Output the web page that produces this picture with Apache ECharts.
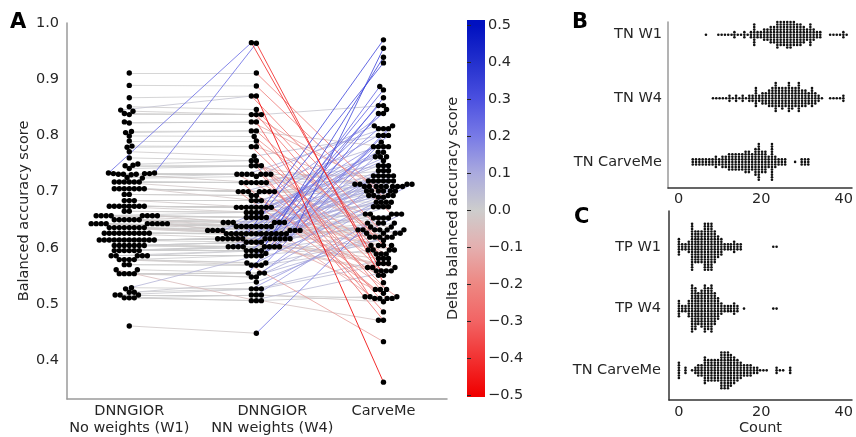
<!DOCTYPE html>
<html><head><meta charset="utf-8">
<script src="https://cdn.jsdelivr.net/npm/echarts@6/dist/echarts.min.js"></script>
<style>html,body{margin:0;padding:0;background:#fff;}#c{width:856px;height:437px;}</style>
</head><body><div id="c"></div>
<script>
// ---------------- data ----------------
const groups = ['DNNGIOR\nNo weights (W1)', 'DNNGIOR\nNN weights (W4)', 'CarveMe'];
const accTicks = [0.4, 0.5, 0.6, 0.7, 0.8, 0.9, 1.0];
const deltaTicks = [-0.5, -0.4, -0.3, -0.2, -0.1, 0.0, 0.1, 0.2, 0.3, 0.4, 0.5];
const countTicks = [0, 20, 40];
const rowsB = ['TN W1', 'TN W4', 'TN CarveMe'];
const rowsC = ['TP W1', 'TP W4', 'TN CarveMe'];

// balanced accuracy per genome (same order in all three arrays)
const w1 = [0.911,0.889,0.867,0.851,0.845,0.843,0.839,0.837,0.824,0.822,0.807,0.805,0.799,0.790,0.781,0.779,0.771,0.760,0.749,0.747,0.746,0.741,
0.733,0.733,0.732,0.732,0.732,0.731,0.731,0.731,0.730,
0.725,0.724,
0.717,0.717,0.717,0.717,0.717,0.717,
0.705,0.705,0.705,0.705,0.705,0.705,0.705,
0.695,0.695,
0.684,0.684,0.684,
0.674,0.674,0.674,0.674,0.674,0.674,0.674,0.674,
0.665,0.665,
0.657,0.657,0.657,0.657,0.657,0.657,0.657,0.657,
0.650,0.650,0.650,0.650,0.650,0.650,
0.643,0.643,0.643,0.643,0.643,0.643,0.643,0.643,0.643,
0.636,0.636,0.636,0.636,0.636,0.636,0.636,0.636,
0.626,0.626,0.626,0.626,0.626,0.626,0.626,0.626,0.626,0.626,
0.614,0.614,0.614,0.614,0.614,0.614,0.614,0.614,0.614,0.614,0.614,0.614,
0.604,0.604,0.604,0.604,0.604,0.604,0.604,
0.595,0.595,0.595,0.595,0.595,0.595,
0.586,0.586,0.586,0.586,0.586,
0.579,0.579,0.579,0.579,
0.570,0.570,
0.561,0.561,
0.554,0.554,0.554,0.554,
0.527,0.529,
0.521,0.521,
0.516,0.516,0.516,
0.511,0.511,0.511,
0.461];

const w4 = [0.911,0.888,0.870,0.846,0.870,0.837,0.837,0.837,0.824,0.824,0.808,0.808,0.798,0.790,0.780,0.780,0.763,0.755,0.755,0.746,0.746,0.746,
0.965,0.964,0.731,0.731,0.731,0.731,0.731,0.731,0.716,
0.731,0.727,
0.716,0.716,0.716,0.716,0.716,0.700,
0.700,0.700,0.700,0.700,0.700,0.700,0.684,
0.693,0.693,
0.684,0.684,0.672,
0.672,0.672,0.672,0.672,0.672,0.672,0.672,0.663,
0.663,0.663,
0.654,0.654,0.654,0.654,0.654,0.645,0.645,0.663,
0.645,0.645,0.645,0.645,0.638,0.638,
0.638,0.638,0.638,0.638,0.638,0.638,0.631,0.631,0.631,
0.631,0.631,0.631,0.631,0.625,0.625,0.625,0.625,
0.625,0.625,0.625,0.625,0.625,0.625,0.625,0.625,0.625,0.616,
0.616,0.616,0.616,0.616,0.616,0.616,0.616,0.616,0.616,0.616,0.616,0.610,
0.610,0.610,0.610,0.602,0.602,0.602,0.602,
0.602,0.602,0.602,0.602,0.595,0.595,
0.595,0.595,0.586,0.586,0.586,
0.586,0.573,0.573,0.569,
0.569,0.569,
0.555,0.506,
0.555,0.555,0.548,0.548,
0.590,0.527,
0.527,0.539,
0.516,0.516,0.527,
0.506,0.506,0.516,
0.448];

const carveme = [0.690,0.660,0.361,0.604,0.626,0.581,0.701,0.853,0.513,0.709,0.596,0.780,0.619,0.526,0.693,0.559,0.800,0.510,0.644,0.471,0.713,0.589,
0.551,0.538,0.728,0.486,0.812,0.632,0.709,0.526,0.737,
0.589,0.817,
0.719,0.572,0.746,0.780,0.510,0.693,
0.709,0.565,0.762,0.701,0.526,0.839,0.681,
0.596,0.728,
0.719,0.551,0.673,
0.800,0.619,0.709,0.746,0.637,0.513,0.719,0.770,
0.604,0.701,
0.970,0.626,0.559,0.780,0.690,0.713,0.762,0.653,
0.887,0.619,0.728,0.660,0.604,0.737,
0.846,0.709,0.632,0.519,0.673,0.719,0.755,0.626,0.681,
0.955,0.701,0.644,0.565,0.812,0.728,0.653,0.572,
0.881,0.709,0.596,0.660,0.632,0.780,0.510,0.681,0.746,0.693,
0.929,0.701,0.719,0.637,0.770,0.673,0.559,0.762,0.632,0.709,0.581,0.853,
0.737,0.644,0.565,0.939,0.728,0.660,0.713,
0.817,0.681,0.589,0.709,0.632,0.800,
0.613,0.693,0.867,0.604,0.719,
0.653,0.433,0.788,0.619,
0.713,0.596,
0.673,0.513,
0.839,0.632,0.701,0.626,
0.812,0.581,
0.660,0.619,
0.644,0.510,0.572,
0.559,0.471,0.504,
0.653];

// panel B / C : count value and number of genomes at that value
const tnW1Val  = [6.6,9.6,10.4,11.2,12.0,12.8,13.5,14.3,15.1,15.9,16.7,17.5,18.3,19.1,19.9,20.7,21.5,22.3,23.1,23.9,24.7,25.5,26.3,27.1,27.9,28.7,29.5,30.3,31.1,31.9,32.7,33.5,34.3,36.7,37.5,38.3,39.1,39.9,40.7];
const tnW1Freq = [1,1,1,1,1,1,3,1,1,3,1,3,9,3,3,5,5,7,7,12,10,10,12,12,10,9,9,7,5,9,5,3,3,1,1,1,1,3,1];
const tnW4Val  = [8.3,9.1,9.9,10.7,11.5,12.3,13.1,13.9,14.7,15.5,16.3,17.1,17.9,18.7,19.5,20.3,21.1,21.9,22.7,23.5,24.3,25.1,25.9,26.7,27.5,28.3,29.1,29.9,30.7,31.5,32.3,33.1,33.9,34.7,36.7,37.5,38.3,39.1,39.9];
const tnW4Freq = [1,1,1,1,1,3,1,3,1,3,1,3,3,8,3,5,5,7,8,12,8,9,8,12,9,8,12,7,7,5,8,5,3,1,1,1,1,1,3];
const tnCmVal  = [3.4,4.2,5.0,5.8,6.6,7.4,8.2,9.0,9.8,10.6,11.4,12.2,13.0,13.8,14.6,15.4,16.2,17.0,17.8,18.6,19.4,20.2,21.0,21.8,22.6,23.4,24.2,25.0,25.8,28.2,29.8,30.6,31.4];
const tnCmFreq = [3,3,3,3,3,3,3,5,3,5,5,7,7,7,7,7,9,9,7,11,15,9,9,5,15,5,3,3,3,1,3,3,3];
const tpW1Val  = [0,0.8,1.6,2.4,3.2,4.0,4.7,5.5,6.3,7.1,7.9,8.7,9.5,10.3,11.1,11.9,12.6,13.4,14.2,15.0,22.9,23.7];
const tpW1Freq = [7,3,3,5,19,13,13,13,19,19,19,13,9,7,3,3,3,5,3,3,1,1];
const tpW4Val  = [0,0.8,1.6,2.4,3.2,4.0,4.7,5.5,6.3,7.1,7.9,8.7,9.5,10.3,11.1,11.9,12.6,13.4,14.2,15.8,22.9,23.7];
const tpW4Freq = [7,3,3,7,19,17,13,15,19,17,19,13,9,5,3,3,3,5,3,1,1,1];
const tnCm2Val  = [0,1.6,3.2,4.0,4.7,5.5,6.3,7.1,7.9,8.7,9.5,10.3,11.1,11.9,12.6,13.4,14.2,15.0,15.8,16.6,17.4,18.2,19.0,19.7,20.5,21.3,23.7,24.5,25.3,27.0];
const tnCm2Freq = [7,3,1,3,5,5,11,9,9,9,9,15,15,15,13,11,9,7,5,5,5,3,3,1,1,1,3,1,1,3];

// ---------------- style ----------------
const FONT = 'DejaVu Sans';
const TXT = '#262626';
const FS = 14.5;
const cmapStops = [[-0.5,[240,0,0]],[-0.4,[242,50,50]],[-0.3,[242,100,100]],[-0.2,[238,135,130]],[-0.1,[228,175,175]],[0,[205,205,205]],[0.1,[170,170,222]],[0.2,[120,122,230]],[0.3,[75,80,224]],[0.4,[35,48,205]],[0.5,[0,16,192]]];
function cmap(v){
  v = Math.max(-0.5, Math.min(0.5, v));
  for (let k = 0; k < cmapStops.length - 1; k++) {
    const a = cmapStops[k], b = cmapStops[k+1];
    if (v <= b[0]) {
      const t = (v - a[0]) / (b[0] - a[0]);
      const c = a[1].map((x, j) => Math.round(x + (b[1][j] - x) * t));
      return 'rgb(' + c.join(',') + ')';
    }
  }
  return 'rgb(' + cmapStops[cmapStops.length-1][1].join(',') + ')';
}
const CB = {left: 467, top: 20, width: 18, height: 377, min: -0.505, max: 0.5135};
const fmtSigned = v => (v < -1e-9 ? '\u2212' : '') + Math.abs(v).toFixed(1);
// x position of each column's tick label (the W4 label sits slightly right of its column)
const groupLabelPos = [0, 1.126, 2];

const chart = echarts.init(document.getElementById('c'), null, {renderer: 'canvas'});
const lbl = (extra) => Object.assign({fontFamily: FONT, fontSize: FS, color: TXT}, extra || {});

const base = {
  animation: false,
  backgroundColor: '#fff',
  title: [
    {text: 'A', left: 10, top: 12, padding: 0, textStyle: {fontFamily: FONT, fontSize: 21, fontWeight: 'bold', color: '#000'}},
    {text: 'B', left: 572, top: 12, padding: 0, textStyle: {fontFamily: FONT, fontSize: 21, fontWeight: 'bold', color: '#000'}},
    {text: 'C', left: 574, top: 207, padding: 0, textStyle: {fontFamily: FONT, fontSize: 21, fontWeight: 'bold', color: '#000'}}
  ],
  grid: [
    {left: 67, top: 23, width: 380, height: 378},
    {left: CB.left, top: CB.top, width: CB.width, height: CB.height},
    {left: 668, top: 22, width: 188, height: 166},
    {left: 669, top: 211, width: 187, height: 189}
  ],
  xAxis: [
    {gridIndex: 0, type: 'value', min: -0.49, max: 2.5,
     axisLine: {show: true, onZero: false, lineStyle: {color: '#9a9a9a', width: 1.5}},
     axisTick: {show: false}, splitLine: {show: false},
     axisLabel: lbl({customValues: groupLabelPos, margin: 4, lineHeight: 17, showMinLabel: true, showMaxLabel: true, hideOverlap: false,
       formatter: v => groups[Math.round(v)]})},
    {gridIndex: 1, type: 'value', show: false, min: 0, max: 1},
    {gridIndex: 2, type: 'value', min: -2.6, max: 42,
     axisLine: {show: true, onZero: false, lineStyle: {color: '#333', width: 1.5}},
     axisTick: {show: false}, splitLine: {show: false},
     axisLabel: lbl({customValues: countTicks, margin: 4, showMinLabel: true, showMaxLabel: true})},
    {gridIndex: 3, type: 'value', min: -2.4, max: 42,
     axisLine: {show: true, onZero: false, lineStyle: {color: '#333', width: 1.5}},
     axisTick: {show: false}, splitLine: {show: false},
     axisLabel: lbl({customValues: countTicks, margin: 5, showMinLabel: true, showMaxLabel: true}),
     name: 'Count', nameLocation: 'middle', nameGap: 20, nameTextStyle: lbl()}
  ],
  yAxis: [
    {gridIndex: 0, type: 'value', min: 0.331, max: 1.0,
     axisLine: {show: true, onZero: false, lineStyle: {color: '#9a9a9a', width: 1.5}},
     axisTick: {show: false}, splitLine: {show: false},
     axisLabel: lbl({customValues: accTicks, margin: 8, showMinLabel: true, showMaxLabel: true, formatter: v => v.toFixed(1)}),
     name: 'Balanced accuracy score', nameLocation: 'middle', nameGap: 27, nameTextStyle: lbl()},
    {gridIndex: 1, type: 'value', position: 'right', min: CB.min, max: CB.max,
     axisLine: {show: false}, splitLine: {show: false},
     axisTick: {show: true, length: 4, customValues: deltaTicks, lineStyle: {color: TXT, width: 1}},
     axisLabel: lbl({customValues: deltaTicks, margin: 3, showMinLabel: true, showMaxLabel: true, formatter: fmtSigned})},
    {gridIndex: 1, type: 'value', position: 'left', min: CB.min, max: CB.max,
     axisLine: {show: false}, splitLine: {show: false}, axisTick: {show: false}, axisLabel: {show: false},
     name: 'Delta balanced accuracy score', nameLocation: 'middle', nameGap: 6, nameTextStyle: lbl()},
    {gridIndex: 2, type: 'value', inverse: true, min: -0.2, max: 2.41,
     axisLine: {show: true, onZero: false, lineStyle: {color: '#9a9a9a', width: 1.5}},
     axisTick: {show: false}, splitLine: {show: false},
     axisLabel: lbl({customValues: [0, 1, 2], margin: 6, showMinLabel: true, showMaxLabel: true, formatter: v => rowsB[Math.round(v)]})},
    {gridIndex: 3, type: 'value', inverse: true, min: -0.58, max: 2.48,
     axisLine: {show: true, onZero: false, lineStyle: {color: '#333', width: 1.5}},
     axisTick: {show: false}, splitLine: {show: false},
     axisLabel: lbl({customValues: [0, 1, 2], margin: 8, showMinLabel: true, showMaxLabel: true, formatter: v => rowsC[Math.round(v)]})}
  ],
  series: []
};
chart.setOption(base);

// ---------------- swarm layout (seaborn-like) ----------------
function swarmOffsets(vals, pxPerVal, d) {
  const n = vals.length;
  const order = vals.map((v, i) => i).sort((a, b) => (vals[a] - vals[b]) || (a - b));
  const placed = [];
  const off = new Array(n);
  for (const i of order) {
    const p = vals[i] * pxPerVal;
    const nb = [];
    for (const q of placed) { const dy = p - q.p; if (Math.abs(dy) < d) nb.push({o: q.o, dy}); }
    const lefts = [], rights = [];
    for (const q of nb) { const dx = Math.sqrt(d * d - q.dy * q.dy); lefts.push(q.o - dx); rights.push(q.o + dx); }
    const cands = [0].concat(lefts, rights).map((c, k) => [c, k]);
    cands.sort((a, b) => (Math.abs(a[0]) - Math.abs(b[0])) || (a[1] - b[1]));
    let chosen = 0;
    for (const [c] of cands) {
      let ok = true;
      for (const q of nb) { const dx = c - q.o; if (dx * dx + q.dy * q.dy < d * d - 1e-6) { ok = false; break; } }
      if (ok) { chosen = c; break; }
    }
    placed.push({p, o: chosen});
    off[i] = chosen;
  }
  return off;
}
function scale(gi, a, b) {
  const p = chart.convertToPixel({gridIndex: gi}, a), q = chart.convertToPixel({gridIndex: gi}, b);
  return [Math.abs((q[0] - p[0]) / (b[0] - a[0])), Math.abs((q[1] - p[1]) / (b[1] - a[1]))];
}
function expand(vals, freqs) { const out = []; vals.forEach((v, i) => { for (let k = 0; k < freqs[i]; k++) out.push(v); }); return out; }

// panel A
const [ax, ay] = scale(0, [0, 0.5], [1, 0.6]);
const DA = 5.0;
const cols = [w1, w4, carveme];
const offs = cols.map(c => swarmOffsets(c, ay, DA).map(o => o / ax));
const pts = cols.map((c, g) => c.map((v, i) => [g + offs[g][i], v]));

const segs = [];
for (let i = 0; i < w1.length; i++) {
  const d1 = w4[i] - w1[i], d2 = carveme[i] - w4[i];
  segs.push({d: d1, coords: [pts[0][i], pts[1][i]]});
  segs.push({d: d2, coords: [pts[1][i], pts[2][i]]});
}
segs.sort((a, b) => Math.abs(a.d) - Math.abs(b.d));
const lineData = segs.map(s => ({coords: s.coords, lineStyle: {color: cmap(s.d)}}));

// panels B / C
const [bx, by] = scale(2, [0, 0], [10, 1]);
const [cx, cy] = scale(3, [0, 0], [10, 1]);
const DB = 2.55;
function rowPoints(vals, freqs, row, px, py) {
  const v = expand(vals, freqs);
  const o = swarmOffsets(v, px, DB);
  return v.map((x, i) => [x, row + o[i] / py]);
}
const bPts = [].concat(
  rowPoints(tnW1Val, tnW1Freq, 0, bx, by),
  rowPoints(tnW4Val, tnW4Freq, 1, bx, by),
  rowPoints(tnCmVal, tnCmFreq, 2, bx, by));
const cPts = [].concat(
  rowPoints(tpW1Val, tpW1Freq, 0, cx, cy),
  rowPoints(tpW4Val, tpW4Freq, 1, cx, cy),
  rowPoints(tnCm2Val, tnCm2Freq, 2, cx, cy));

// colour bar gradient
const gradStops = cmapStops.map(s => ({offset: (CB.max - s[0]) / (CB.max - CB.min), color: cmap(s[0])}));
gradStops.unshift({offset: 0, color: cmap(0.5)});
gradStops.push({offset: 1, color: cmap(-0.5)});
gradStops.sort((a, b) => a.offset - b.offset);

const dot = {color: '#000', opacity: 1};
chart.setOption({
  graphic: [{type: 'rect', silent: true, z: 0,
    shape: {x: CB.left, y: CB.top, width: CB.width, height: CB.height},
    style: {fill: new echarts.graphic.LinearGradient(0, 0, 0, 1, gradStops)}}],
  series: [
    {type: 'lines', coordinateSystem: 'cartesian2d', xAxisIndex: 0, yAxisIndex: 0, silent: true, z: 1,
     lineStyle: {width: 0.9, opacity: 0.92}, data: lineData},
    {type: 'scatter', xAxisIndex: 0, yAxisIndex: 0, symbolSize: 5.4, silent: true, z: 3, itemStyle: dot, data: pts[0]},
    {type: 'scatter', xAxisIndex: 0, yAxisIndex: 0, symbolSize: 5.4, silent: true, z: 3, itemStyle: dot, data: pts[1]},
    {type: 'scatter', xAxisIndex: 0, yAxisIndex: 0, symbolSize: 5.4, silent: true, z: 3, itemStyle: dot, data: pts[2]},
    {type: 'scatter', xAxisIndex: 2, yAxisIndex: 3, symbolSize: 2.6, silent: true, itemStyle: {color: '#111', opacity: 1}, data: bPts},
    {type: 'scatter', xAxisIndex: 3, yAxisIndex: 4, symbolSize: 2.6, silent: true, itemStyle: {color: '#111', opacity: 1}, data: cPts}
  ]
});
</script>
</body></html>
